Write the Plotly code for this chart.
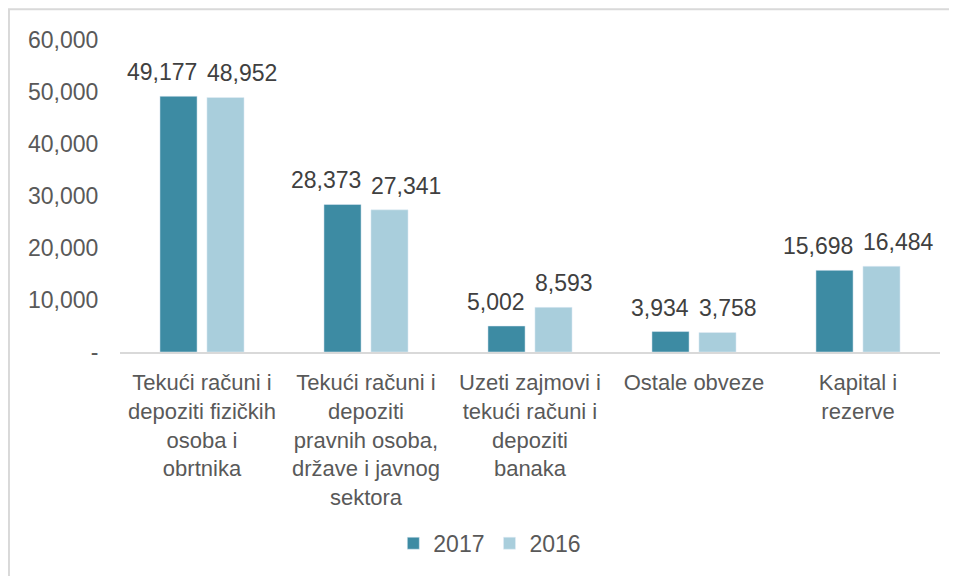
import plotly.graph_objects as go

categories = [
    "Tekući računi i<br>depoziti fizičkih<br>osoba i<br>obrtnika",
    "Tekući računi i<br>depoziti<br>pravnih osoba,<br>države i javnog<br>sektora",
    "Uzeti zajmovi i<br>tekući računi i<br>depoziti<br>banaka",
    "Ostale obveze",
    "Kapital i<br>rezerve",
]
values_2017 = [49177, 28373, 5002, 3934, 15698]
values_2016 = [48952, 27341, 8593, 3758, 16484]
tick_vals = [0, 10000, 20000, 30000, 40000, 50000, 60000]
tick_text = ["-", "10,000", "20,000", "30,000", "40,000", "50,000", "60,000"]

FS = 23
TXT = "#404040"
GREY = "#595959"

fig = go.Figure()
fig.add_trace(go.Bar(x=categories, y=values_2017, name="2017", marker=dict(color="#3D8BA3")))
fig.add_trace(go.Bar(x=categories, y=values_2016, name="2016", marker=dict(color="#A9CEDC")))

# data labels: 2017 pushed left, 2016 pushed right so they don't collide
for cat, v17, v16 in zip(categories, values_2017, values_2016):
    fig.add_annotation(x=cat, y=v17, text=f"{v17:,}", showarrow=False,
                       xanchor="right", yanchor="bottom", xshift=-3, yshift=9,
                       font=dict(size=FS, color=TXT))
    fig.add_annotation(x=cat, y=v16, text=f"{v16:,}", showarrow=False,
                       xanchor="left", yanchor="bottom", xshift=3, yshift=9,
                       font=dict(size=FS, color=TXT))

# outer chart border
fig.add_shape(type="rect", xref="paper", yref="paper",
              x0=-0.1354, x1=1.05, y0=-1.0, y1=1.0984,
              line=dict(color="#D9D9D9", width=2), layer="below")

fig.update_layout(
    barmode="group",
    bargap=0.427,
    bargroupgap=0.21,
    width=949, height=568,
    margin=dict(l=112, r=17, t=32, b=221),
    plot_bgcolor="white", paper_bgcolor="white",
    font=dict(family="Liberation Sans, Arial, sans-serif", size=FS, color=GREY),
    xaxis=dict(showgrid=False, zeroline=False, showline=True, linecolor="#D9D9D9", linewidth=2,
               tickangle=0, ticks="outside", ticklen=10, tickcolor="rgba(0,0,0,0)",
               tickfont=dict(size=22, color=GREY), automargin=False),
    yaxis=dict(range=[0, 60000], showgrid=False, zeroline=False, showline=False,
               tickvals=tick_vals, ticktext=tick_text, ticks="outside", ticklen=16,
               tickcolor="rgba(0,0,0,0)", tickfont=dict(size=FS, color=GREY),
               automargin=False),
    legend=dict(orientation="h", x=0.451, y=-0.613, xanchor="center", yanchor="middle",
                font=dict(size=FS, color=GREY), traceorder="normal"),
    showlegend=True,
)

fig.write_html("out.html")
